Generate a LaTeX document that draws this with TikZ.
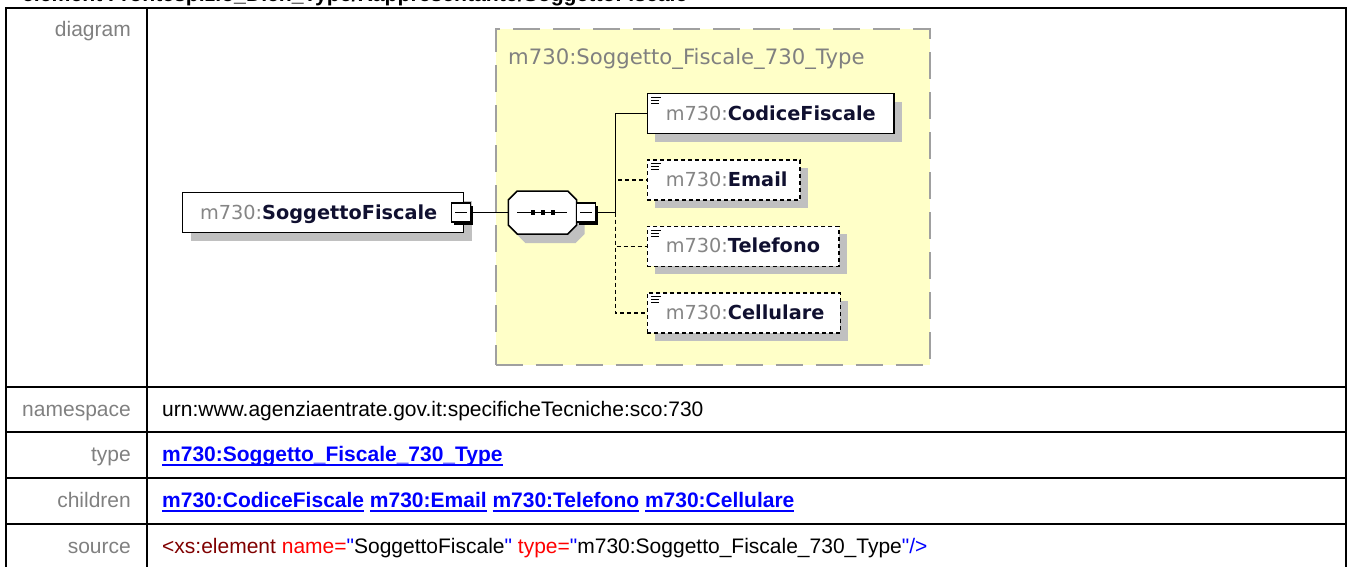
\documentclass[tikz,border=0pt]{standalone}
\usepackage{fontspec}
\setmainfont{Liberation Sans}
\newfontfamily\djv{DejaVu Sans}
\font\qfont="Liberation Sans" at 21pt
\usetikzlibrary{shadows,calc}
\definecolor{yel}{HTML}{FFFFC8}
\definecolor{boxgray}{HTML}{A0A0A0}
\definecolor{shgray}{HTML}{C0C0C0}
\definecolor{lblgray}{HTML}{808080}
\definecolor{pfxgray}{HTML}{858585}
\definecolor{namedark}{HTML}{101030}
\definecolor{lnkblue}{HTML}{0000FF}
\definecolor{xmaroon}{HTML}{800000}
\definecolor{xred}{HTML}{FF0000}
\newcommand\elname[1]{{\djv\fontsize{19.3}{23}\selectfont\textcolor{pfxgray}{m730:}\textcolor{namedark}{\bfseries #1}}}
\newcommand\lnk[1]{{\bfseries\setbox0\hbox{#1}\rlap{\rule[-4.6pt]{\wd0}{1.8pt}}\box0}}
\newcommand\qq{{\qfont\char34\relax}}
\begin{document}
\begin{tikzpicture}[x=1pt,y=-1pt,
  grid/.style={line width=2pt, black},
  lbl/.style={anchor=base east, inner sep=0, text=lblgray, font=\fontsize{21}{25}\selectfont},
  val/.style={anchor=base west, inner sep=0, font=\fontsize{21}{25}\selectfont},
  ctbox/.style={anchor=north west, draw=boxgray, fill=yel, line width=2pt, dash pattern=on 27pt off 13pt, minimum width=434pt, minimum height=336pt, inner sep=0},
  elbox/.style={draw=black, line width=1.6pt, fill=white, inner ysep=0, minimum height=40pt, text height=16pt, text depth=3pt, general shadow={fill=shgray, shadow xshift=8pt, shadow yshift=-8pt}},
  leaf/.style={elbox, anchor=west, inner xsep=15.5pt, align=left,
    path picture={
      \draw[solid, line width=1.1pt] ($(path picture bounding box.north west)+(3.5pt,-3.8pt)$) -- ++(10pt,0pt);
      \draw[solid, line width=1.1pt] ($(path picture bounding box.north west)+(3.5pt,-6.8pt)$) -- ++(8.5pt,0pt);
      \draw[solid, line width=1.1pt] ($(path picture bounding box.north west)+(3.5pt,-9.8pt)$) -- ++(8.5pt,0pt);}},
  optleaf/.style={leaf, dash pattern=on 4pt off 3pt},
  minusbox/.style={draw=black, fill=white, line width=1.2pt, minimum size=19pt, inner sep=0,
    general shadow={fill=black, shadow xshift=2.5pt, shadow yshift=-2.5pt},
    path picture={\draw[solid, line width=1.3pt] ($(path picture bounding box.west)+(3.5pt,0pt)$) -- ($(path picture bounding box.east)+(-3.5pt,0pt)$);}},
  conn/.style={line width=1.5pt, black},
  dconn/.style={conn, dash pattern=on 4pt off 3pt}
]
\useasboundingbox (0,0) rectangle (1349,567);
\clip (0,0) rectangle (1349,567);

% cut-off heading
\node[anchor=base west, inner sep=0, font=\bfseries\fontsize{21.2}{25}\selectfont] (title) at (22,1.5) {element Frontespizio\_Dich\_Type/Rappresentante/SoggettoFiscale};

% table grid
\draw[grid] (5.5,8.5) -- (1346,8.5);
\draw[grid] (5.5,7.5) -- (5.5,567);
\draw[grid] (147,7.5) -- (147,567);
\draw[grid] (1346,7.5) -- (1346,567);
\draw[grid] (5.5,387) -- (1346,387);
\draw[grid] (5.5,432) -- (1346,432);
\draw[grid] (5.5,478) -- (1346,478);
\draw[grid] (5.5,524) -- (1346,524);

% labels
\node[lbl] (ldiag) at (131,37) {diagram};
\node[lbl] (lns) at (131,416.5) {namespace};
\node[lbl] (ltype) at (131,461.5) {type};
\node[lbl] (lch) at (131,507.5) {children};
\node[lbl] (lsrc) at (131,553.5) {source};

% values
\node[val] (vns) at (162,416.5) {urn:www.agenziaentrate.gov.it:specificheTecniche:sco:730};
\node[val] (vtype) at (162,461.5) {\textcolor{lnkblue}{\lnk{m730:Soggetto\_Fiscale\_730\_Type}}};
\node[val] (vch) at (162,507.5) {\textcolor{lnkblue}{\lnk{m730:CodiceFiscale} \lnk{m730:Email} \lnk{m730:Telefono} \lnk{m730:Cellulare}}};
\node[val] (vsrc) at (162,553.5) {\textcolor{xmaroon}{<xs:element}\ \textcolor{xred}{name=}\textcolor{lnkblue}{\qq}SoggettoFiscale\textcolor{lnkblue}{\qq}\ \textcolor{xred}{type=}\textcolor{lnkblue}{\qq}m730:Soggetto\_Fiscale\_730\_Type\textcolor{lnkblue}{\qq/>}};

% complex type container
\node[ctbox] (ct) at (494.5,28) {};
\node[anchor=base west, inner sep=0, text=lblgray, font=\djv\fontsize{21.2}{25}\selectfont] (ctt) at (508,64.5) {m730:Soggetto\_Fiscale\_730\_Type};

% root element
\node[elbox, anchor=west, minimum width=281pt, inner xsep=15pt, text width=251pt, align=left] (root) at (181.7,212.5) {\hspace*{2.6pt}\elname{SoggettoFiscale}};
\node[minusbox] (rm) at (461.2,212.5) {};

% sequence compositor
\fill[shgray] (525.3,200) -- (575.7,200) -- (584.7,209) -- (584.7,234) -- (575.7,243) -- (525.3,243) -- (516.3,234) -- (516.3,209) -- cycle;
\filldraw[fill=white, draw=black, line width=1.5pt] (517.3,191) -- (567.7,191) -- (576.7,200) -- (576.7,225) -- (567.7,234) -- (517.3,234) -- (508.3,225) -- (508.3,200) -- cycle;
\node[inner sep=0, minimum width=68.4pt, minimum height=43pt] (seq) at (542.5,212.5) {};
\draw[line width=1.3pt] (517,212.5) -- (567,212.5);
\fill (530.7,210.2) rectangle ++(4.6,4.6);
\fill (540.7,210.2) rectangle ++(4.6,4.6);
\fill (550.7,210.2) rectangle ++(4.6,4.6);
\node[minusbox] (sm) at (586.2,212.5) {};
\coordinate (j) at (615.5,212.5);

% children
\node[leaf, minimum width=246.8pt, text width=215.8pt] (cf) at (646.5,113.7) {\hspace*{3pt}\elname{CodiceFiscale}};
\node[optleaf, minimum width=152.8pt, text width=121.8pt] (em) at (646.5,180) {\hspace*{3pt}\elname{Email}};
\node[optleaf, minimum width=191.5pt, text width=160.5pt] (tel) at (646.5,246.4) {\hspace*{3pt}\elname{Telefono}};
\node[optleaf, minimum width=193pt, text width=162pt] (cel) at (646.5,312.8) {\hspace*{3pt}\elname{Cellulare}};

% connectors
\draw[conn] (rm.east) -- (seq.west);
\draw[conn] (sm.east) -- (j);
\draw[dconn] (j) |- (em.west);
\draw[dconn] (j) |- (tel.west);
\draw[dconn] (j) |- (cel.west);
\draw[conn] (j) |- (cf.west);
\end{tikzpicture}
\end{document}
